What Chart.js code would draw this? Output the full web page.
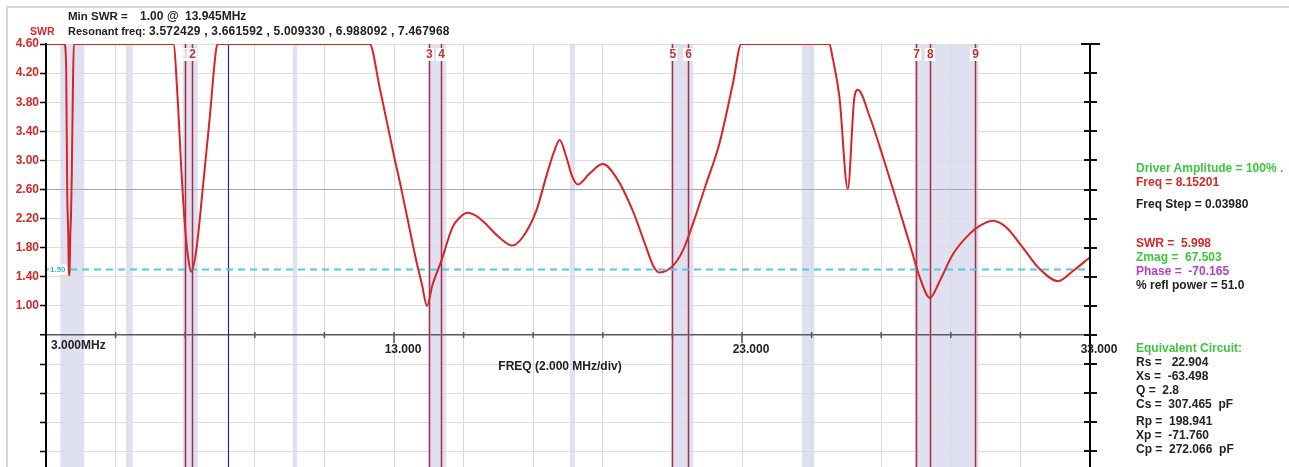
<!DOCTYPE html>
<html>
<head>
<meta charset="utf-8">
<script src="https://cdn.jsdelivr.net/npm/chart.js@4.4.1/dist/chart.umd.min.js"></script>
<style>
  body { margin: 0; background: #fff; }
  #wrap { position: relative; width: 1289px; height: 467px; overflow: hidden; background: #fff; }
  #frame { position: absolute; left: 6px; top: 6px; width: 1400px; height: 600px; border-top: 2px solid #d8d8d8; border-left: 2px solid #d8d8d8; }
  canvas { position: absolute; left: 0; top: 0; }
  .t { position: absolute; font: bold 12px "Liberation Sans", Arial, sans-serif; line-height: 14px; white-space: pre; color: #222; }
  .red { color: #d62828; }
  .grn { color: #3fc63f; }
  .pur { color: #b83cc8; }
</style>
</head>
<body>
<div id="wrap">
  <div id="frame"></div>
  <canvas id="c" width="1289" height="467"></canvas>

  <div class="t red" style="left:30px; top:24px; font-size:10.5px;">SWR</div>
  <div class="t" style="left:68px; top:9px; font-size:11.5px;">Min SWR =</div>
  <div class="t" style="left:140px; top:9px;">1.00</div>
  <div class="t" style="left:167px; top:9px;">@</div>
  <div class="t" style="left:185px; top:9px;">13.945MHz</div>
  <div class="t" style="left:68px; top:24px; font-size:11px;">Resonant freq:</div>
  <div class="t" style="left:149px; top:24px; letter-spacing:0.2px;">3.572429 , 3.661592 , 5.009330 , 6.988092 , 7.467968</div>

  <div class="t grn" style="left:1136px; top:161px;">Driver Amplitude = 100% .</div>
  <div class="t red" style="left:1136px; top:175px;">Freq = 8.15201</div>
  <div class="t" style="left:1136px; top:197px;">Freq Step = 0.03980</div>
  <div class="t red" style="left:1136px; top:236px;">SWR =  5.998</div>
  <div class="t grn" style="left:1136px; top:250px;">Zmag =  67.503</div>
  <div class="t pur" style="left:1136px; top:264px;">Phase =  -70.165</div>
  <div class="t" style="left:1136px; top:278px;">% refl power = 51.0</div>
  <div class="t grn" style="left:1136px; top:341px;">Equivalent Circuit:</div>
  <div class="t" style="left:1136px; top:355px;">Rs =   22.904</div>
  <div class="t" style="left:1136px; top:369px;">Xs =  -63.498</div>
  <div class="t" style="left:1136px; top:383px;">Q =  2.8</div>
  <div class="t" style="left:1136px; top:397px;">Cs =  307.465  pF</div>
  <div class="t" style="left:1136px; top:414px;">Rp =  198.941</div>
  <div class="t" style="left:1136px; top:428px;">Xp =  -71.760</div>
  <div class="t" style="left:1136px; top:442px;">Cp =  272.066  pF</div>
</div>
<script>
// SWR sweep, 3 - 33 MHz (values above 4.60 are pinned to the top of the plot)
const freqMHz = [3.00, 3.53, 3.58, 3.61, 3.64, 3.655, 3.675, 3.70, 3.72, 3.74, 3.77, 3.80,
  6.66, 6.79, 6.89, 6.98, 7.08, 7.17, 7.32, 7.51, 7.70, 7.89, 7.94,
  12.30, 12.58, 13.01, 13.16, 13.40, 13.64, 13.80, 13.95, 14.10, 14.36, 14.68, 14.90, 15.12, 15.35, 15.54,
  16.03, 16.40, 16.69, 17.09, 17.37, 17.60, 17.76, 17.95, 18.12, 18.28, 18.62, 19.00, 19.38, 19.86,
  20.25, 20.45, 20.63, 21.01, 21.30, 21.59, 21.97, 22.35, 22.74, 22.98,
  25.51, 25.60, 25.80, 26.04, 26.23, 26.33, 26.67, 27.05, 27.44, 27.82, 28.11, 28.40, 28.68,
  29.06, 29.54, 29.83, 30.21, 30.59, 31.07, 31.55, 32.08, 32.51, 33.00];
const swr = [4.60, 4.60, 4.26, 2.55, 2.00, 1.42, 1.45, 2.00, 2.27, 2.78, 3.88, 4.60,
  4.60, 3.79, 2.87, 2.18, 1.68, 1.47, 1.77, 2.64, 3.56, 4.53, 4.60,
  4.60, 4.02, 3.04, 2.72, 2.17, 1.62, 1.30, 1.00, 1.28, 1.62, 2.08, 2.22, 2.28, 2.24, 2.17,
  1.94, 1.83, 1.94, 2.31, 2.77, 3.12, 3.28, 3.05, 2.78, 2.67, 2.82, 2.95, 2.77, 2.31,
  1.80, 1.55, 1.46, 1.55, 1.76, 2.13, 2.68, 3.23, 4.06, 4.60,
  4.60, 4.42, 3.87, 2.61, 3.87, 3.97, 3.60, 3.05, 2.45, 1.85, 1.39, 1.11, 1.34,
  1.71, 1.99, 2.10, 2.17, 2.08, 1.80, 1.51, 1.34, 1.48, 1.67];

const xTicks = [3, 5, 7, 9, 11, 13, 15, 17, 19, 21, 23, 25, 27, 29, 31, 33];
const xLabelMHz = [3, 13, 23, 33];
const xLabelText = ['3.000MHz', '13.000', '23.000', '33.000'];
const yTicks = [4.6, 4.2, 3.8, 3.4, 3.0, 2.6, 2.2, 1.8, 1.4, 1.0, 0.6, 0.2, -0.2, -0.6, -1.0];
const yLabelText = ['4.60', '4.20', '3.80', '3.40', '3.00', '2.60', '2.20', '1.80', '1.40', '1.00'];

// ham bands (shaded) and band-edge markers
const bandLo = [3.41, 5.30, 6.93, 10.09, 14.00, 18.05, 20.97, 24.72, 27.96];
const bandHi = [4.10, 5.49, 7.36, 10.22, 14.50, 18.20, 21.60, 25.08, 29.80];
const markerMHz = [7.0, 7.2, 14.0, 14.35, 21.0, 21.45, 28.0, 28.4, 29.7];
const markerText = ['1', '2', '3', '4', '5', '6', '7', '8', '9'];
const cursorMHz = 8.22;
const swrLimit = 1.5;

const X_MIN = 3, X_MAX = 33, Y_MIN = -1.214, Y_MAX = 4.6;
const FONT = 'bold 12px "Liberation Sans", Arial, sans-serif';

const near = (a, b) => Math.abs(a - b) < 1e-6;

const overlay = {
  id: 'overlay',
  beforeDraw(chart) {
    const { ctx, chartArea: a, scales: { x } } = chart;
    ctx.save();
    ctx.fillStyle = '#dfe0f0';
    bandLo.forEach((lo, i) => {
      const x1 = x.getPixelForValue(lo), x2 = x.getPixelForValue(bandHi[i]);
      ctx.fillRect(x1, a.top, x2 - x1, a.bottom - a.top);
    });
    ctx.restore();
  },
  beforeDatasetsDraw(chart) {
    const { ctx, chartArea: a, scales: { x, y } } = chart;
    ctx.save();
    markerMHz.forEach(f => {
      const px = Math.round(x.getPixelForValue(f)) + 0.5;
      ctx.strokeStyle = 'rgba(230,100,120,0.45)';
      ctx.lineWidth = 3;
      ctx.beginPath(); ctx.moveTo(px, a.top); ctx.lineTo(px, a.bottom); ctx.stroke();
      ctx.strokeStyle = '#8a3a5a';
      ctx.lineWidth = 1;
      ctx.beginPath(); ctx.moveTo(px, a.top); ctx.lineTo(px, a.bottom); ctx.stroke();
    });
    const cx = Math.round(x.getPixelForValue(cursorMHz)) + 0.5;
    ctx.strokeStyle = '#2c2c6c';
    ctx.lineWidth = 1.2;
    ctx.beginPath(); ctx.moveTo(cx, a.top); ctx.lineTo(cx, a.bottom); ctx.stroke();

    // tick marks on the frequency axis line
    const ay = y.getPixelForValue(0.6);
    ctx.strokeStyle = '#555';
    ctx.lineWidth = 1.5;
    xTicks.forEach(f => {
      if (f === X_MIN || f === X_MAX) return;
      const px = x.getPixelForValue(f);
      const big = xLabelMHz.includes(f);
      ctx.beginPath(); ctx.moveTo(px, ay - 3); ctx.lineTo(px, ay + (big ? 8 : 3)); ctx.stroke();
    });
    ctx.restore();
  },
  afterDraw(chart) {
    const { ctx, chartArea: a, scales: { x, y } } = chart;
    ctx.save();
    ctx.font = FONT;
    ctx.textBaseline = 'middle';

    // marker numbers
    ctx.textAlign = 'center';
    markerMHz.forEach((f, i) => {
      const px = x.getPixelForValue(f);
      ctx.fillStyle = '#fff';
      ctx.fillRect(px - 5, a.top + 4, 10, 13);
      ctx.fillStyle = i === 0 ? '#f2d0d0' : '#c83030';
      ctx.fillText(markerText[i], px + 0.5, a.top + 11);
    });

    // SWR tick labels
    ctx.textAlign = 'right';
    ctx.fillStyle = '#d42828';
    yLabelText.forEach((t, i) => ctx.fillText(t, 39, y.getPixelForValue(yTicks[i])));

    // frequency labels
    ctx.fillStyle = '#222';
    const ay = y.getPixelForValue(0.6);
    xLabelMHz.forEach((f, i) => {
      const px = x.getPixelForValue(f);
      if (i === 0) { ctx.textAlign = 'left'; ctx.fillText(xLabelText[i], px + 5, ay + 11); }
      else { ctx.textAlign = 'center'; ctx.fillText(xLabelText[i], px + 9, ay + 15); }
    });
    ctx.textAlign = 'center';
    ctx.fillText('FREQ (2.000 MHz/div)', 560, ay + 32);

    // right hand axis crosses
    ctx.strokeStyle = '#111';
    ctx.lineWidth = 2;
    yTicks.forEach((v, i) => {
      const py = Math.round(y.getPixelForValue(v));
      const w = i === 0 ? 9 : 6;
      ctx.beginPath(); ctx.moveTo(a.right - w, py); ctx.lineTo(a.right + w + 1, py); ctx.stroke();
    });

    // 1.50 limit label
    const ly = y.getPixelForValue(swrLimit);
    ctx.fillStyle = '#fff';
    ctx.fillRect(a.left + 3, ly - 5, 18, 10);
    ctx.font = 'bold 8px "Liberation Sans", Arial, sans-serif';
    ctx.textAlign = 'left';
    ctx.fillStyle = '#3ab4c4';
    ctx.fillText('1.50', a.left + 4, ly);
    ctx.restore();
  }
};

new Chart(document.getElementById('c'), {
  type: 'line',
  data: {
    datasets: [{
      label: 'SWR',
      data: freqMHz.map((f, i) => ({ x: f, y: swr[i] })),
      borderColor: '#d82424',
      borderWidth: 2,
      pointRadius: 0,
      cubicInterpolationMode: 'monotone',
      fill: false
    }, {
      label: 'limit',
      data: [{ x: X_MIN, y: swrLimit }, { x: X_MAX, y: swrLimit }],
      borderColor: '#58c8dc',
      borderWidth: 2,
      borderDash: [7, 5],
      pointRadius: 0,
      fill: false
    }]
  },
  options: {
    responsive: false,
    animation: false,
    devicePixelRatio: 1,
    layout: { padding: { top: 44, left: 0, right: 0, bottom: 0 } },
    plugins: { legend: { display: false }, tooltip: { enabled: false } },
    scales: {
      x: {
        type: 'linear', position: 'bottom', min: X_MIN, max: X_MAX,
        afterBuildTicks: s => { s.ticks = xTicks.map(v => ({ value: v })); },
        afterFit: s => { s.height = 0; },
        ticks: { display: false },
        border: { display: false },
        grid: {
          drawTicks: false,
          color: c => (c.tick && (c.tick.value === X_MIN || c.tick.value === X_MAX)) ? 'rgba(0,0,0,0)' : '#d9d9d9',
          lineWidth: 1
        }
      },
      y: {
        type: 'linear', position: 'left', min: Y_MIN, max: Y_MAX,
        afterBuildTicks: s => { s.ticks = yTicks.map(v => ({ value: v })); },
        afterFit: s => { s.width = 46; },
        ticks: { display: false },
        border: { display: true, color: '#000', width: 2, z: 1 },
        grid: {
          color: c => {
            const v = c.tick ? c.tick.value : 0;
            if (near(v, 0.6)) return '#5a5a5a';
            if (near(v, 2.6)) return '#a9a9a9';
            return '#dcdcdc';
          },
          lineWidth: c => (c.tick && near(c.tick.value, 0.6)) ? 1.5 : 1,
          drawTicks: true,
          tickLength: 6,
          tickColor: '#000',
          tickWidth: 1.5
        }
      },
      y2: {
        type: 'linear', position: 'right', min: Y_MIN, max: Y_MAX,
        afterFit: s => { s.width = 199; },
        ticks: { display: false },
        border: { display: true, color: '#000', width: 2, z: 1 },
        grid: { display: false }
      }
    }
  },
  plugins: [overlay]
});
</script>
</body>
</html>
